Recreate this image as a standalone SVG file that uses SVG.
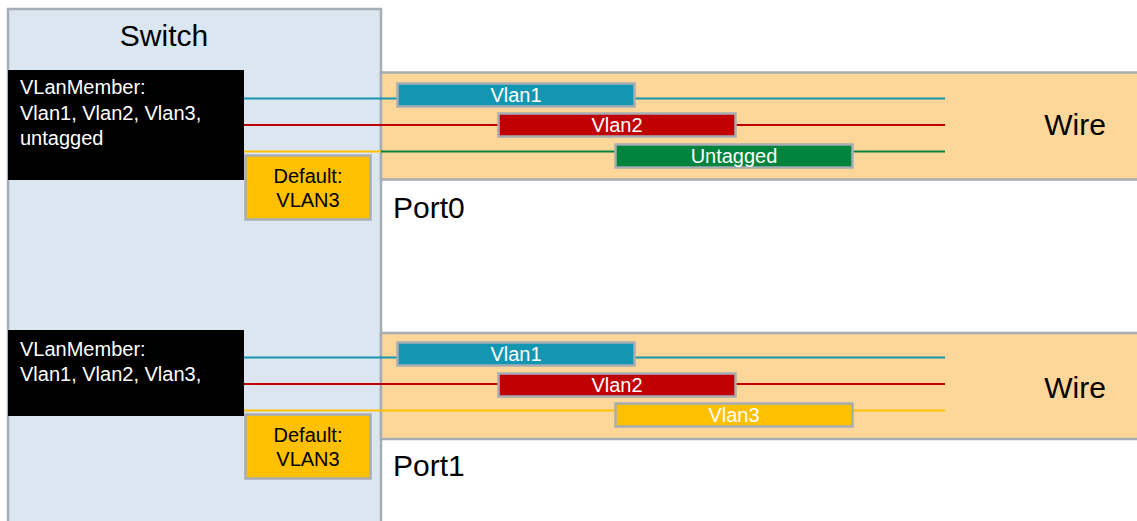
<svg xmlns="http://www.w3.org/2000/svg" width="1137" height="521" viewBox="0 0 1137 521">
<style>
text{font-family:"Liberation Sans",Arial,sans-serif}
.sw{fill:#dce6f0;stroke:#a6adb4;stroke-width:2.5}
.band{fill:#fdd699;stroke:#a6adb4;stroke-width:2.5}
.mem{fill:#000}
.memt{fill:#fff;font-size:20px}
.def{fill:#ffc000;stroke:#a6adb4;stroke-width:2.5}
.deft{fill:#000;font-size:20px;text-anchor:middle}
.tag{stroke:#a6adb4;stroke-width:2.5}
.tagt{fill:#fff;font-size:20px;text-anchor:middle}
.big{fill:#000;font-size:30px}
.ln{stroke-width:2;fill:none}
.b{stroke:#1396b1}.r{stroke:#c00000}.g{stroke:#00843d}.y{stroke:#ffc000}
</style>
<rect width="1137" height="521" fill="#fff"/>
<g id="switch">
<rect class="sw" x="8" y="9" width="373" height="530"/>
<text class="big" x="164" y="46" text-anchor="middle">Switch</text>
</g>
<g id="wire0">
<rect class="band" x="381" y="72.5" width="770" height="107"/>
<text class="big" x="1075" y="135" text-anchor="middle">Wire</text>
<text class="big" x="393" y="218">Port0</text>
</g>
<g id="wire1">
<rect class="band" x="381" y="333" width="770" height="106"/>
<text class="big" x="1075" y="398" text-anchor="middle">Wire</text>
<text class="big" x="393" y="476">Port1</text>
</g>
<g id="connectors">
<line class="ln b" x1="244" y1="98.5" x2="945" y2="98.5"/>
<line class="ln r" x1="244" y1="125" x2="945" y2="125"/>
<line class="ln y" x1="240" y1="151.5" x2="381" y2="151.5"/>
<line class="ln g" x1="381" y1="151.5" x2="945" y2="151.5"/>
<line class="ln b" x1="244" y1="357.5" x2="945" y2="357.5"/>
<line class="ln r" x1="244" y1="384" x2="945" y2="384"/>
<line class="ln y" x1="244" y1="410.5" x2="945" y2="410.5"/>
</g>
<g id="member0">
<rect class="mem" x="8" y="70" width="236" height="110"/>
<text class="memt" x="20" y="94">VLanMember:</text>
<text class="memt" x="20" y="120">Vlan1, Vlan2, Vlan3,</text>
<text class="memt" x="20" y="145">untagged</text>
</g>
<g id="default0">
<rect class="def" x="245.5" y="155.5" width="125" height="64"/>
<text class="deft" x="308" y="183">Default:</text>
<text class="deft" x="308" y="207">VLAN3</text>
</g>
<g id="member1">
<rect class="mem" x="8" y="330" width="236" height="86"/>
<text class="memt" x="20" y="356">VLanMember:</text>
<text class="memt" x="20" y="381">Vlan1, Vlan2, Vlan3,</text>
</g>
<g id="default1">
<rect class="def" x="245.5" y="414.5" width="125" height="64"/>
<text class="deft" x="308" y="442">Default:</text>
<text class="deft" x="308" y="466">VLAN3</text>
</g>
<g id="tags0">
<rect class="tag" fill="#1396b1" x="397.5" y="83.5" width="237" height="23"/>
<text class="tagt" x="516" y="102">Vlan1</text>
<rect class="tag" fill="#c00000" x="498.5" y="113.5" width="237" height="23"/>
<text class="tagt" x="617" y="132">Vlan2</text>
<rect class="tag" fill="#00843d" x="615.5" y="144.5" width="237" height="23"/>
<text class="tagt" x="734" y="163">Untagged</text>
</g>
<g id="tags1">
<rect class="tag" fill="#1396b1" x="397.5" y="342.5" width="237" height="23"/>
<text class="tagt" x="516" y="361">Vlan1</text>
<rect class="tag" fill="#c00000" x="498.5" y="373.5" width="237" height="23"/>
<text class="tagt" x="617" y="392">Vlan2</text>
<rect class="tag" fill="#ffc000" x="615.5" y="403.5" width="237" height="23"/>
<text class="tagt" x="734" y="422">Vlan3</text>
</g>
</svg>
